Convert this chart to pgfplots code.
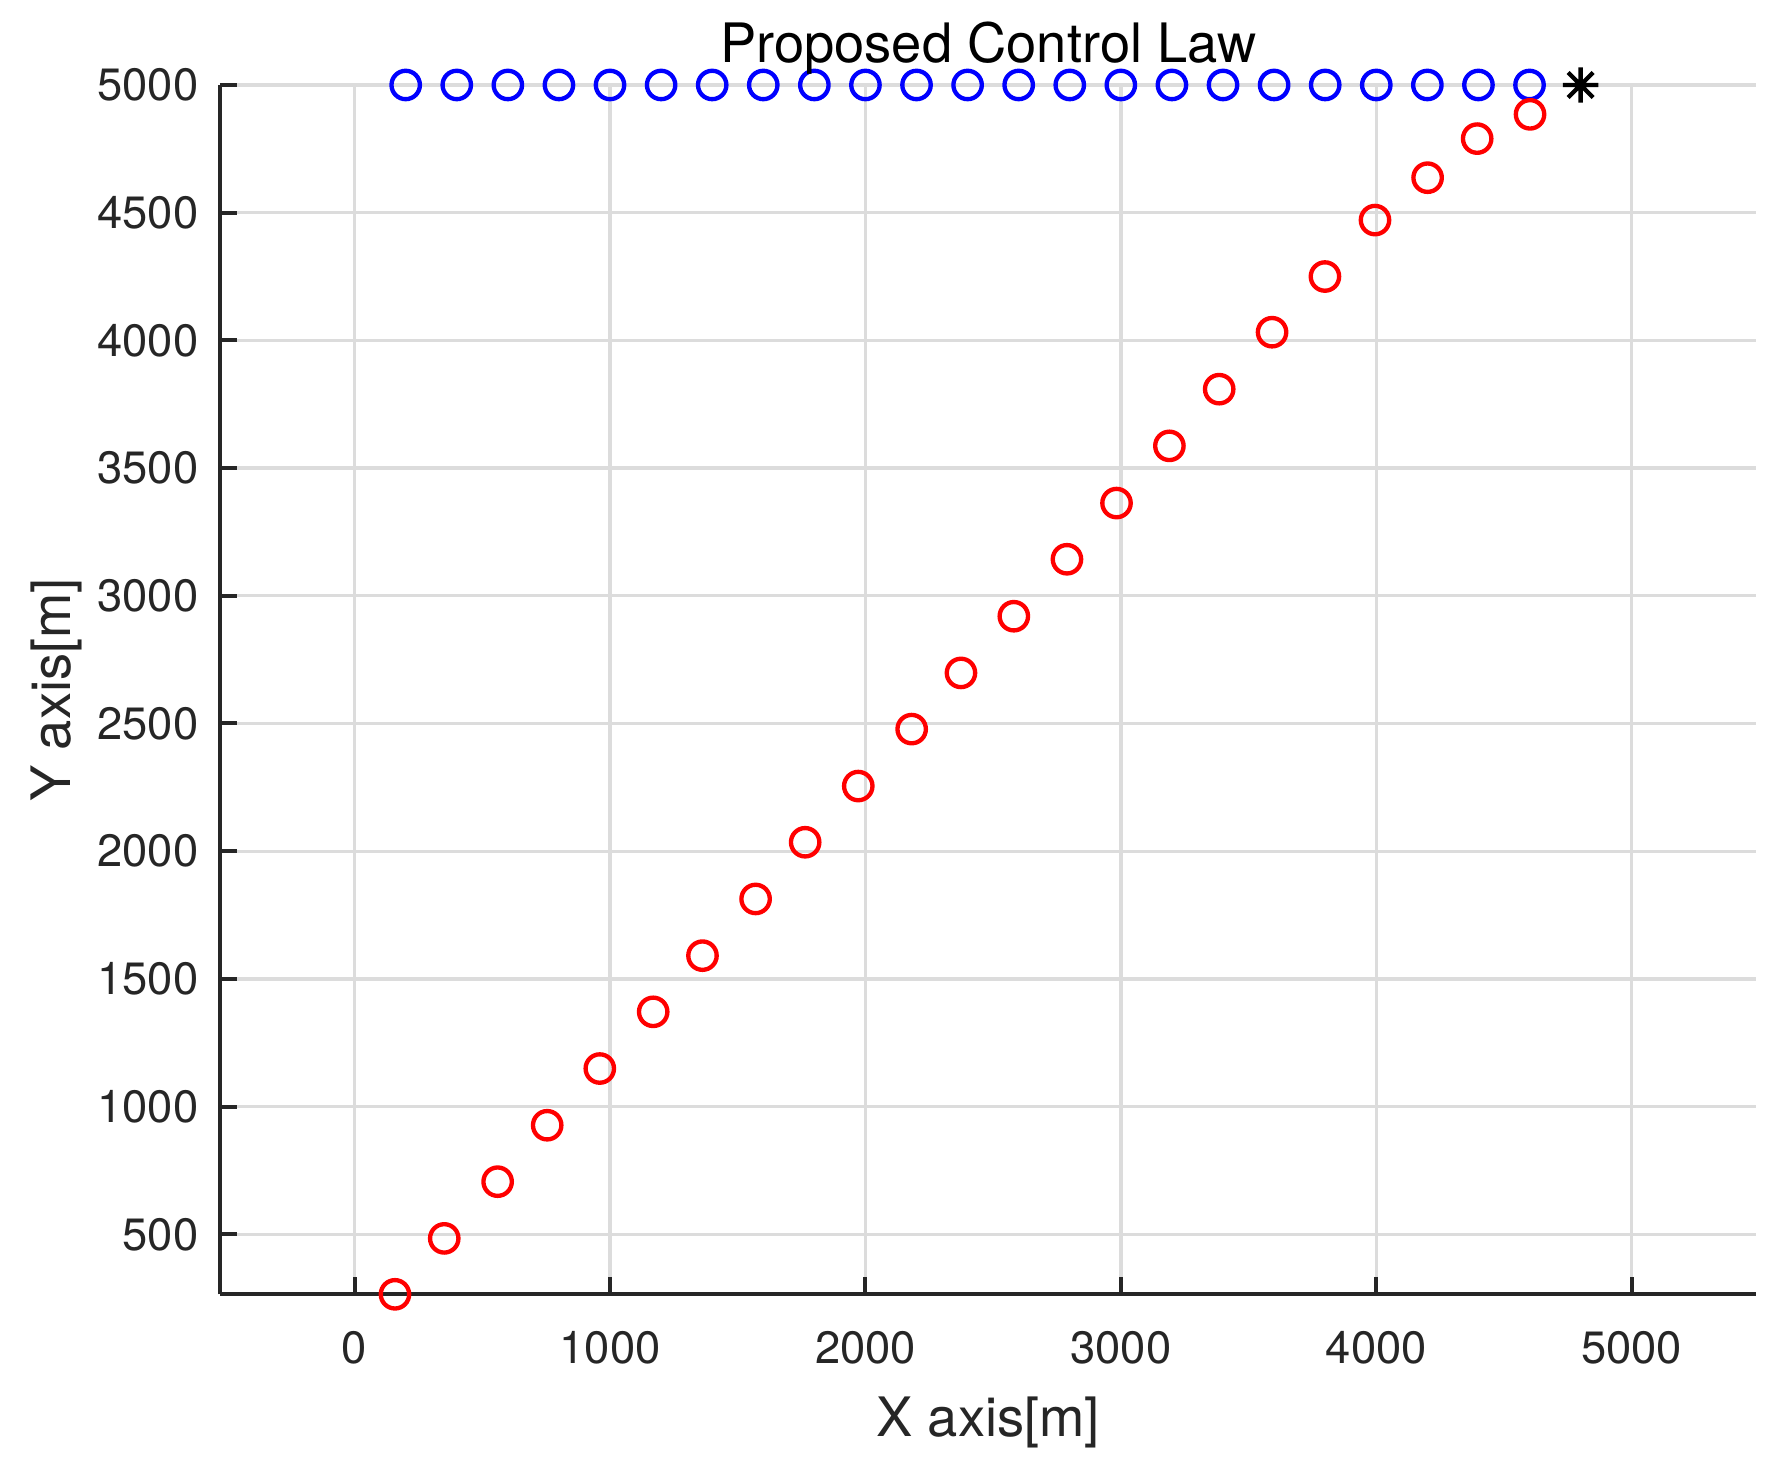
\documentclass[border=0pt]{standalone}
\usepackage{fontspec}
\setmainfont{TeX Gyre Heros}
\usepackage{pgfplots}
\pgfplotsset{compat=1.18}
\definecolor{axgray}{RGB}{38,38,38}
\definecolor{gridgray}{RGB}{220,220,220}
\pgfdeclareplotmark{mstar}{%
  \pgfpathmoveto{\pgfqpoint{-\pgfplotmarksize}{0pt}}\pgfpathlineto{\pgfqpoint{\pgfplotmarksize}{0pt}}%
  \pgfpathmoveto{\pgfqpoint{0pt}{-\pgfplotmarksize}}\pgfpathlineto{\pgfqpoint{0pt}{\pgfplotmarksize}}%
  \pgfpathmoveto{\pgfqpoint{-0.7071\pgfplotmarksize}{-0.7071\pgfplotmarksize}}\pgfpathlineto{\pgfqpoint{0.7071\pgfplotmarksize}{0.7071\pgfplotmarksize}}%
  \pgfpathmoveto{\pgfqpoint{-0.7071\pgfplotmarksize}{0.7071\pgfplotmarksize}}\pgfpathlineto{\pgfqpoint{0.7071\pgfplotmarksize}{-0.7071\pgfplotmarksize}}%
  \pgfusepathqstroke}
\begin{document}
\begin{tikzpicture}
\path[use as bounding box] (0,0) rectangle (533.1pt,438pt);
\begin{axis}[
  at={(66pt,49.7pt)}, anchor=south west,
  width=460.9pt, height=362.8pt, scale only axis,
  xmin=-527, xmax=5488, ymin=265, ymax=5000,
  axis x line*=bottom, axis y line*=left,
  axis line style={axgray, line width=1.2pt, -},
  xtick={0,1000,...,5000}, ytick={500,1000,...,5000},
  xtick pos=left, ytick pos=left,
  grid=major, major grid style={gridgray, line width=1pt},
  tick align=inside, major tick length=5.2pt,
  tick style={axgray, line width=1.2pt},
  xticklabel style={font=\fontsize{13.6}{16}\selectfont, text=axgray, anchor=base, yshift=-20.8pt, inner sep=0pt},
  yticklabel style={font=\fontsize{13.6}{16}\selectfont, text=axgray, anchor=east, xshift=-6.3pt, inner sep=0pt},
  xlabel={X axis[m]},
  xlabel style={font=\fontsize{16.3}{19}\selectfont, text=axgray, at={(axis description cs:0.5,0)}, anchor=base, yshift=-42.8pt, inner sep=0pt},
  ylabel={Y axis[m]},
  ylabel style={font=\fontsize{16.3}{19}\selectfont, text=axgray, at={([xshift=-44.7pt]axis description cs:0,0.5)}, anchor=base, inner sep=0pt},
  title={Proposed Control Law},
  title style={font=\fontsize{16.3}{19}\selectfont, at={(axis description cs:0.5,1)}, anchor=base, yshift=0.6pt, inner sep=0pt},
  clip=false,
  scaled ticks=false,
  /pgf/number format/1000 sep={},
  /pgf/number format/assume math mode=true,
]
\addplot[only marks, mark=o, mark size=4.26pt, color=blue, line width=1.3pt] coordinates {
(200,5000)(400,5000)(600,5000)(800,5000)(1000,5000)(1200,5000)(1400,5000)(1600,5000)
(1800,5000)(2000,5000)(2200,5000)(2400,5000)(2600,5000)(2800,5000)(3000,5000)(3200,5000)
(3400,5000)(3600,5000)(3800,5000)(4000,5000)(4200,5000)(4400,5000)(4600,5000)
};
\addplot[only marks, mark=o, mark size=4.26pt, color=red, line width=1.3pt] coordinates {
(158,265)(351,484)(560,706)(754,927)(960,1149)(1169,1371)(1362,1591)(1570,1813)
(1764,2035)(1972,2255)(2181,2478)(2374,2698)(2581,2920)(2789,3143)(2983,3363)(3190,3587)
(3385,3809)(3592,4032)(3799,4250)(3995,4471)(4201,4637)(4395,4790)(4602,4885)
};
\addplot[only marks, mark=mstar, mark size=5.3pt, color=black, line width=1.3pt] coordinates {
(4800,5000)
};
\end{axis}
\end{tikzpicture}
\end{document}
